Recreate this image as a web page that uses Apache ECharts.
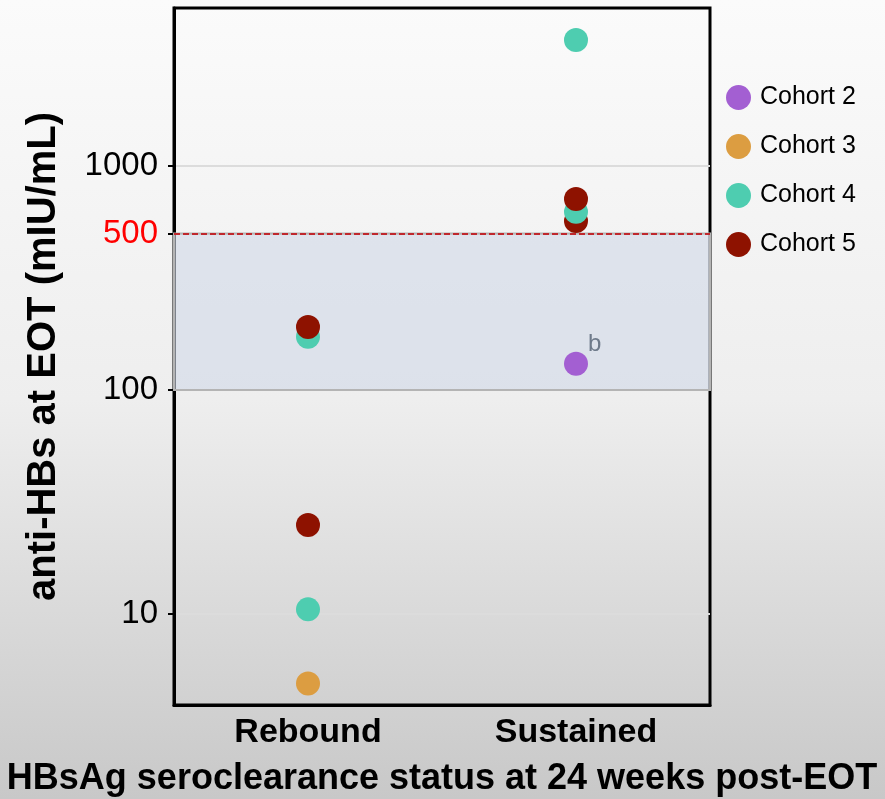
<!DOCTYPE html>
<html>
<head>
<meta charset="utf-8">
<script src="https://cdn.jsdelivr.net/npm/echarts@6/dist/echarts.min.js"></script>
<style>
  html, body { margin: 0; padding: 0; }
  #chart { width: 885px; height: 799px; }
</style>
</head>
<body>
<div id="chart"></div>
<script>
const categories = ['Rebound', 'Sustained'];
const yTicks = [10, 100, 500, 1000];
const cutoff = 500;
const bandLow = 100;

// [status, anti-HBs at EOT]
const cohort2 = [['Sustained', 131]];
const cohort2Notes = ['b'];
const cohort3 = [['Rebound', 4.9]];
const cohort4 = [['Rebound', 173], ['Rebound', 10.5], ['Sustained', 3650], ['Sustained', 624]];
const cohort5 = [['Rebound', 191], ['Rebound', 25], ['Sustained', 713]];
const cohort5Behind = [['Sustained', 568]]; // sits under the teal point

const colors = {
  'Cohort 2': '#a35fd2',
  'Cohort 3': '#dc9d41',
  'Cohort 4': '#4ecdb0',
  'Cohort 5': '#8e1200'
};

const FONT = '"Liberation Sans", Arial, sans-serif';
const chart = echarts.init(document.getElementById('chart'));

function dots(name, data, extra) {
  return Object.assign({
    name: name,
    type: 'scatter',
    symbolSize: 24,
    itemStyle: { color: colors[name], opacity: 1 },
    emphasis: { disabled: true },
    data: data
  }, extra || {});
}

const option = {
  backgroundColor: new echarts.graphic.LinearGradient(0, 0, 0, 1, [
    { offset: 0, color: '#fbfbfb' },
    { offset: 0.5, color: '#eeeeee' },
    { offset: 1, color: '#c8c8c8' }
  ]),
  animation: false,
  grid: {
    left: 174, right: 175, top: 8, bottom: 94,
    outerBoundsMode: 'none', containLabel: false,
    show: true, borderColor: '#000', borderWidth: 3, backgroundColor: 'transparent'
  },
  legend: {
    orient: 'vertical',
    left: 721, top: 80,
    icon: 'circle',
    itemWidth: 25, itemHeight: 25,
    itemGap: 24,
    data: ['Cohort 2', 'Cohort 3', 'Cohort 4', 'Cohort 5'],
    textStyle: { fontFamily: FONT, fontSize: 25, color: '#000', padding: [0, 0, 0, 4] }
  },
  xAxis: {
    type: 'category',
    data: categories,
    name: 'HBsAg seroclearance status at 24 weeks post-EOT',
    nameLocation: 'middle',
    nameGap: 56,
    nameTextStyle: { fontFamily: FONT, fontSize: 36, fontWeight: 'bold', color: '#000' },
    axisLine: { lineStyle: { color: '#000', width: 3 } },
    axisTick: { show: false },
    axisLabel: { fontFamily: FONT, fontSize: 34, fontWeight: 'bold', color: '#000', margin: 11 },
    splitLine: { show: false }
  },
  yAxis: {
    type: 'log',
    logBase: 10,
    min: 3.93,
    max: 5070,
    name: 'anti-HBs at EOT (mIU/mL)',
    nameLocation: 'middle',
    nameGap: 110,
    nameTextStyle: { fontFamily: FONT, fontSize: 40, fontWeight: 'bold', color: '#000' },
    axisLine: { show: true, lineStyle: { color: '#000', width: 3 } },
    axisTick: { show: true, customValues: yTicks, length: 6, lineStyle: { color: '#000', width: 2 } },
    axisLabel: {
      customValues: yTicks,
      fontFamily: FONT, fontSize: 33, color: '#000', margin: 16,
      formatter: v => Math.round(v) === cutoff ? '{r|' + Math.round(v) + '}' : String(Math.round(v)),
      rich: { r: { fontFamily: FONT, fontSize: 33, color: '#ff0000' } }
    },
    splitLine: { show: true, lineStyle: { color: '#dcdcdc', width: 2 } }
  },
  series: [
    {
      type: 'scatter',
      data: [],
      silent: true,
      markArea: {
        silent: true,
        itemStyle: { color: 'rgba(208,216,232,0.6)', borderColor: '#b4b4b4', borderWidth: 2 },
        data: [[{ yAxis: bandLow }, { yAxis: cutoff }]]
      },
      markLine: {
        silent: true,
        symbol: 'none',
        label: { show: false },
        lineStyle: { color: '#c0282d', width: 2, type: [6, 3] },
        data: [{ yAxis: cutoff }]
      }
    },
    dots('Cohort 2', cohort2.map((d, i) => ({
      value: d,
      label: {
        show: true, formatter: cohort2Notes[i], position: 'right', offset: [-5, -19],
        fontFamily: FONT, fontSize: 24, color: '#6e7a8a'
      }
    }))),
    dots('Cohort 3', cohort3),
    dots('Cohort 5', cohort5Behind),
    dots('Cohort 4', cohort4),
    dots('Cohort 5', cohort5)
  ]
};

chart.setOption(option);
</script>
</body>
</html>
